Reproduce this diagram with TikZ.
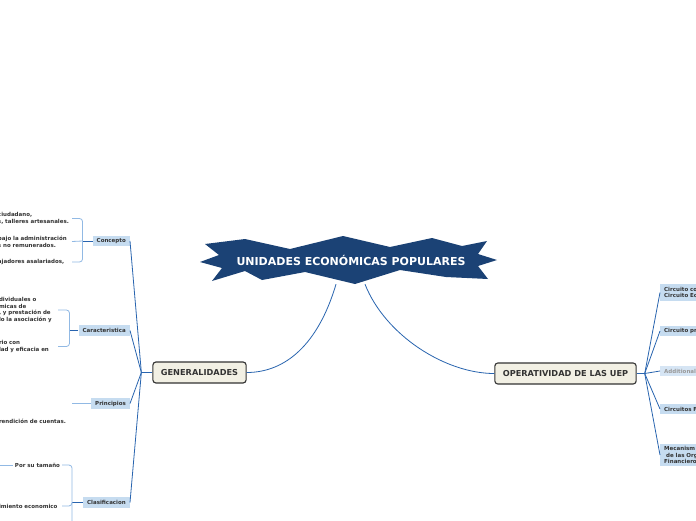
\documentclass[tikz,border=0pt]{standalone}
\usepackage{fontspec}
\setmainfont{DejaVu Sans}
\usetikzlibrary{positioning,calc}
\definecolor{titleblue}{RGB}{27,66,117}
\definecolor{linkblue}{RGB}{40,100,175}
\definecolor{brkblue}{RGB}{145,185,228}
\definecolor{subfill}{RGB}{198,220,240}
\definecolor{addfill}{RGB}{214,229,244}
\definecolor{mainfill}{RGB}{242,240,228}
\definecolor{textdark}{RGB}{51,51,51}
\tikzset{
  titletext/.style={text=white, font=\fontsize{11}{13}\selectfont\bfseries, minimum height=48, inner sep=0pt},
  mainbox/.style={draw=black!80, line width=1.1pt, rounded corners=3pt, fill=mainfill, font=\fontsize{8.2}{9}\selectfont\bfseries, text=textdark, inner xsep=8pt, minimum height=21},
  subbox/.style={fill=subfill, font=\fontsize{5.5}{7}\selectfont\bfseries, text=textdark, inner xsep=4pt, inner ysep=1.5pt, minimum height=10.5, anchor=east},
  leaftext/.style={font=\fontsize{5.5}{6.8}\selectfont\bfseries, text=textdark, align=left, inner sep=0pt, outer sep=2pt},
  leaf/.style={leaftext, anchor=west, text width=#1},
  leaf/.default=72pt,
  rnode/.style={fill=subfill, font=\fontsize{5.5}{6.8}\selectfont\bfseries, text=textdark, align=left, text width=60pt, inner xsep=4pt, inner ysep=2.5pt, anchor=west},
  link/.style={draw=linkblue, line width=0.8pt},
  bracket/.style={draw=brkblue, line width=0.8pt, rounded corners=3pt}
}
\begin{document}
\begin{tikzpicture}[x=1pt, y=-1pt]
  \useasboundingbox (0,0) rectangle (696,520);
  \fill[white] (0,0) rectangle (696,520);
  \clip (0,0) rectangle (696,520);

  % central topic
  \fill[titleblue] (200,262) -- (219,255) -- (205,244) -- (245,239) -- (290,249) -- (343,236)
    -- (390,247) -- (432,238) -- (462,246) -- (487,241) -- (478,254) -- (497,260) -- (478,266)
    -- (488,279) -- (446,277) -- (400,270) -- (355,284) -- (305,272) -- (262,280) -- (245,271)
    -- (212,281) -- (222,268) -- cycle;
  \node[titletext] (title) at (351,260) {UNIDADES ECONÓMICAS POPULARES};

  % main topics
  \node[mainbox] (gen) at (199.5,372.5) {GENERALIDADES};
  \node[mainbox] (oper) at (565.5,373.5) {OPERATIVIDAD DE LAS UEP};
  \draw[link] ([xshift=-15pt]title.south) .. controls (318,345) and (285,372.5) .. (gen.east);
  \draw[link] ([xshift=14pt]title.south) .. controls (385,335) and (445,373.5) .. (oper.west);

  % left branch
  \node[subbox] (concepto) at (130,241) {Concepto};
  \node[subbox] (caract) at (130,330.5) {Caracteristica};
  \node[subbox] (princ) at (130,403.5) {Principios};
  \node[subbox] (clasif) at (130,502.5) {Clasificacion};
  \draw[link] (gen.west) -- ++(-11,0) coordinate (ghub);
  \foreach \n in {concepto,caract,princ,clasif}
    \draw[link] (ghub) -- (\n.east);

  % Concepto
  \node[leaf] (con1) at (-4,218.5) {ciudadano,\\s, talleres artesanales.};
  \node[leaf] (con2) at (-4,241.5) {bajo la administración\\s no remunerados.};
  \node[leaf] (con3) at (-4,262) {ajadores asalariados,};
  \draw[link] (concepto.west) -- ++(-10,0) coordinate (conb);
  \draw[bracket] (con1.east) -| (conb) |- (con3.east);
  \draw[bracket] (conb) -- (con2.east);

  % Caracteristica
  \node[leaf=57pt] (car1) at (-3,310) {dividuales o\\micas de\\, y prestación de\\lo la asociación y};
  \node[leaf=57pt] (car2) at (-3,346.5) {rio con\\lad y eficacia en};
  \draw[link] (caract.west) -- ++(-9,0) coordinate (carb);
  \draw[bracket] (car1.east) -| (carb) |- (car2.east);

  % Principios
  \coordinate (pri1) at (72,403.5);
  \node[leaf] (pritxt) at (-3,421) {rendición de cuentas.};
  \draw[bracket] (princ.west) -- (pri1);

  % Clasificacion
  \node[leaftext, anchor=east] (tam) at (62,465) {Por su tamaño};
  \node[leaf=61pt] (eco) at (-3,506) {imiento economico};
  \coordinate (tamkid) at (-3,465);
  \coordinate (clbot) at (72,530);
  \draw[link] (clasif.west) -- ++(-11,0) coordinate (clb);
  \draw[bracket] (tam.east) -| (clbot);
  \draw[bracket] (clb) |- (eco.east);
  \draw[bracket] (tam.west) -- (tamkid);

  % right branch
  \node[rnode] (r1) at (660,292.5) {Circuito co\\Circuito Ec};
  \node[rnode] (r2) at (660,331) {Circuito pr};
  \node[rnode, fill=addfill, text=black!40] (r3) at (660,371) {Additional};
  \node[rnode] (r4) at (660,409) {Circuitos F};
  \node[rnode] (r5) at (660,455) {Mecanism\\\hspace{2pt}de las Org\\Financiero};
  \draw[link] (oper.east) -- ++(8,0) coordinate (ohub);
  \foreach \n in {r1,r2,r3,r4,r5}
    \draw[link] (ohub) -- (\n.west);
\end{tikzpicture}
\end{document}
